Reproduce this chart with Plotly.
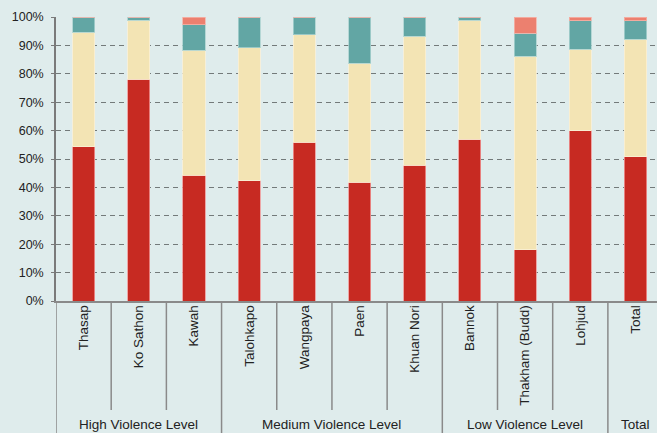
import plotly.graph_objects as go

categories = ["Thasap", "Ko Sathon", "Kawah", "Talohkapo", "Wangpaya", "Paen",
              "Khuan Nori", "Bannok", "Thakham (Budd)", "Lohjud", "Total"]
# segment sizes (percent)
red_vals    = [54.3, 78.1, 44.3, 42.4, 55.9, 41.8, 47.8, 56.9, 18.1, 60.0, 50.8]
yellow_vals = [40.4, 20.7, 44.0, 46.8, 37.9, 41.9, 45.4, 41.9, 68.1, 28.6, 41.3]
teal_vals   = [5.3, 1.2, 9.0, 10.8, 6.2, 16.3, 6.8, 1.2, 8.1, 10.1, 6.6]
salmon_vals = [0.0, 0.0, 2.7, 0.0, 0.0, 0.0, 0.0, 0.0, 5.7, 1.3, 1.3]
groups = [("High Violence Level", 0, 2), ("Medium Violence Level", 3, 6),
          ("Low Violence Level", 7, 9), ("Total", 10, 10)]
y_ticks = [0, 10, 20, 30, 40, 50, 60, 70, 80, 90, 100]

FONT = "Liberation Sans, Arial, sans-serif"
BG = "#DFECEC"
series = [
    (red_vals, "#C72A22", "rgba(240,150,150,0.8)"),
    (yellow_vals, "#F3E4B4", "rgba(250,240,215,0.8)"),
    (teal_vals, "#62A6A4", "rgba(170,210,208,0.8)"),
    (salmon_vals, "#EC806F", "rgba(245,180,170,0.8)"),
]

fig = go.Figure()
xs = list(range(len(categories)))
for vals, col, edge in series:
    fig.add_trace(go.Bar(x=xs, y=vals, width=0.4, marker_color=col,
                         marker_line=dict(color=edge, width=1), showlegend=False,
                         hoverinfo="skip"))

fig.update_layout(
    barmode="stack", width=657, height=433,
    margin=dict(l=56, r=0, t=17, b=132),
    paper_bgcolor=BG, plot_bgcolor=BG,
    font=dict(family=FONT, size=12.5, color="#222222"),
)
fig.update_xaxes(
    range=[-0.5, 10.39], tickmode="array", tickvals=xs, ticktext=categories,
    tickangle=-90, ticks="", showgrid=False, showline=True, linecolor="#8a8a8a",
    linewidth=1.5, tickfont=dict(size=13.5), zeroline=False,
    ticklabelstandoff=-3,
)
fig.update_yaxes(
    range=[0, 100], tickmode="array", tickvals=y_ticks,
    ticktext=[f"{v}%" for v in y_ticks], showgrid=True, gridcolor="#737a7a",
    griddash="5px,4px", gridwidth=1.4, showline=True, linecolor="#7a7a7a",
    linewidth=1.5, ticks="outside", ticklen=3, tickcolor="#7a7a7a",
    zeroline=False, ticklabelstandoff=5,
)

plot_h = 433 - 17 - 132
def py(pix):
    return (301 - pix) / plot_h

# dividers
group_edges = {-0.5, 2.5, 6.5, 9.5}
for k in range(len(categories)):
    xv = k - 0.5
    bottom = py(433) if xv in group_edges else py(410)
    fig.add_shape(type="line", xref="x", yref="paper", x0=xv, x1=xv,
                  y0=0, y1=bottom, line=dict(color="#8a8a8a", width=1.5))

for name, a, b in groups:
    fig.add_annotation(x=(a + b) / 2, y=py(425), xref="x", yref="paper",
                       text=name, showarrow=False, font=dict(size=13.5),
                       xanchor="center", yanchor="middle")

fig.write_html("out.html", config={"displayModeBar": False},
               post_script="document.body.style.margin='0';document.body.style.overflow='hidden';")
